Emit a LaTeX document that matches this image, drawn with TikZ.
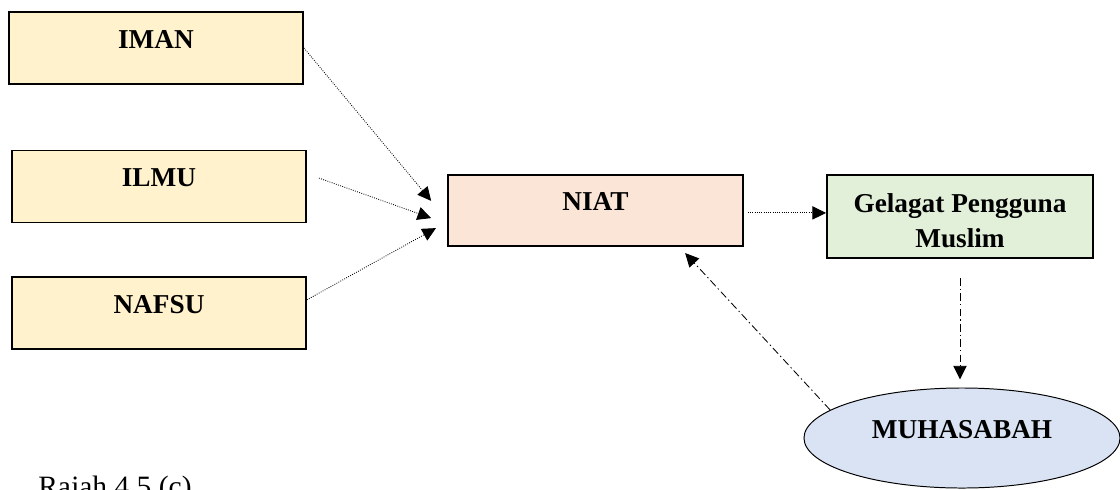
\documentclass[tikz,border=0pt]{standalone}
\usepackage{fontspec}
\setmainfont{Liberation Serif}
\usetikzlibrary{shapes.geometric, arrows.meta}
\definecolor{factorfill}{HTML}{FFF2CC}
\definecolor{niatfill}{HTML}{FBE5D6}
\definecolor{actfill}{HTML}{E2F0D9}
\definecolor{reflectfill}{HTML}{DAE3F3}
\tikzstyle{factor} = [rectangle, minimum width=7.35cm, minimum height=1.8cm, inner sep=0pt, text height=0.9cm, text depth=0.9cm, text centered, draw=black, line width=1.3pt, fill=factorfill, font=\fontsize{19.4}{25}\selectfont\bfseries]
\tikzstyle{intent} = [factor, minimum width=7.37cm, minimum height=1.78cm, text height=0.89cm, text depth=0.89cm, fill=niatfill]
\tikzstyle{behaviour} = [rectangle, minimum width=6.65cm, minimum height=2.075cm, inner sep=0pt, align=center, text height=1.8cm, text depth=0.275cm, draw=black, line width=1.3pt, fill=actfill, font=\fontsize{19.4}{24.9}\selectfont\bfseries]
\tikzstyle{reflect} = [ellipse, minimum width=7.9cm, minimum height=2.5cm, inner sep=0pt, text height=0.5cm, text depth=0.5cm, draw=black, line width=0.7pt, fill=reflectfill, font=\fontsize{19.4}{25}\selectfont\bfseries]
\tikzstyle{dotarrow} = [line width=0.6pt, densely dotted, -{Triangle[length=0.34cm, width=0.33cm]}]
\tikzstyle{dasharrow} = [line width=0.6pt, dash pattern=on 5.5pt off 2.2pt on 1pt off 2.2pt, -{Triangle[length=0.34cm, width=0.33cm]}]

\begin{document}
\begin{tikzpicture}[x=0.025cm, y=-0.025cm]
    \clip (0,0) rectangle (1120,489);

    \node (iman) [factor] at (156,48) {IMAN};
    \node (ilmu) [factor] at (159,186.5) {ILMU};
    \node (nafsu) [factor] at (159,313) {NAFSU};
    \node (niat) [intent] at (595.5,210.5) {NIAT};
    \node (gelagat) [behaviour] at (960,216.5) {Gelagat Pengguna\\Muslim};
    \node (muhasabah) [reflect] at (962,438) {MUHASABAH};
    \node (rajah) [anchor=base west, inner sep=0pt, font=\fontsize{21}{25}\selectfont] at (38,496) {Rajah 4.5 (c)};

    \draw [dotarrow] (iman.east) -- ([xshift=-0.4cm, yshift=0.24cm]niat.west);
    \draw [dotarrow] ([xshift=0.3cm, yshift=0.21cm]ilmu.east) -- ([xshift=-0.4cm, yshift=-0.19cm]niat.west);
    \draw [dotarrow] ([yshift=0.33cm]nafsu.east) -- ([xshift=-0.28cm, yshift=-0.44cm]niat.west);
    \draw [dotarrow, shorten <=0.1cm] ([yshift=-0.06cm]niat.east) -- ([yshift=-0.06cm]niat.east -| gelagat.west);
    \draw [dasharrow, shorten <=0.475cm, shorten >=0.2cm] (gelagat.south) -- (gelagat.south |- muhasabah.north);
    \draw [dasharrow] (muhasabah.168) -- ([xshift=2.24cm, yshift=-0.15cm]niat.south);

\end{tikzpicture}
\end{document}
